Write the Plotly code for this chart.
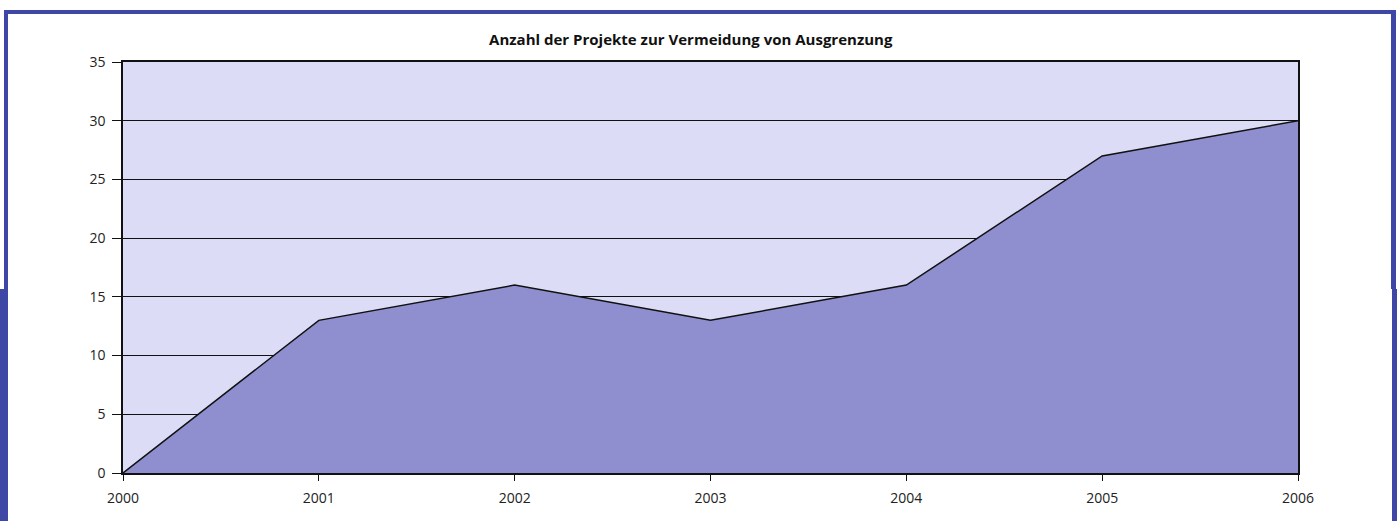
import plotly.graph_objects as go

years = [2000, 2001, 2002, 2003, 2004, 2005, 2006]
projects = [0, 13, 16, 13, 16, 27, 30]
y_ticks = [0, 5, 10, 15, 20, 25, 30, 35]
title = "Anzahl der Projekte zur Vermeidung von Ausgrenzung"

W, H = 1397, 521
L, R, T, B = 123, 1298, 62, 473

def px(x):
    return (x - L) / (R - L)

def py(y):
    return (B - y) / (B - T)

fig = go.Figure()
fig.add_trace(go.Scatter(
    x=years, y=projects, mode="lines", fill="tozeroy",
    fillcolor="#8f8fd0", line=dict(color="#111111", width=1.5),
    hoverinfo="x+y", showlegend=False,
))

border = "#3e46a6"
shapes = [
    dict(type="rect", x0=px(4), x1=px(1396), y0=py(10), y1=py(14)),
    dict(type="rect", x0=px(4), x1=px(8), y0=py(10), y1=py(521)),
    dict(type="rect", x0=px(0), x1=px(8), y0=py(289), y1=py(521)),
    dict(type="rect", x0=px(1391), x1=px(1396), y0=py(10), y1=py(289)),
    dict(type="rect", x0=px(1392), x1=px(1397), y0=py(289), y1=py(521)),
]
for s in shapes:
    s.update(xref="paper", yref="paper", fillcolor=border, line=dict(width=0), layer="above")

fig.update_layout(
    width=W, height=H,
    margin=dict(l=L, r=W - R, t=T, b=H - B),
    paper_bgcolor="white", plot_bgcolor="#dcdcf6",
    font=dict(family="Open Sans, Lato, sans-serif", size=14, color="#222222"),
    title=dict(text="<b>" + title + "</b>", x=px(704), xanchor="center", y=1 - 40 / H, yanchor="middle",
               font=dict(size=15, color="#111111")),
    shapes=shapes,
    xaxis=dict(
        range=[2000, 2006], tickvals=years, ticktext=[str(y) for y in years],
        showgrid=False, zeroline=False, showline=True, linecolor="#111111", linewidth=1.5,
        mirror=True, ticks="outside", ticklen=6, tickcolor="#111111", ticklabelstandoff=5,
    ),
    yaxis=dict(
        range=[0, 35], tickvals=y_ticks, showgrid=True, gridcolor="#111111", gridwidth=1,
        zeroline=False, showline=True, linecolor="#111111", linewidth=1.5, mirror=True,
        ticks="outside", ticklen=9, tickcolor="#111111", ticklabelstandoff=4,
    ),
)

fig.write_html("out.html", config={"displayModeBar": False},
               post_script="document.body.style.margin='0px';document.body.style.overflow='hidden';")
